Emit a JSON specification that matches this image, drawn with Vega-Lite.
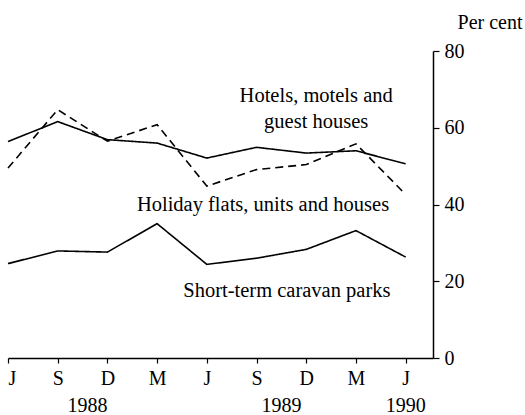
{
  "$schema": "https://vega.github.io/schema/vega-lite/v6.json",
  "autosize": "none",
  "width": 425,
  "height": 307,
  "padding": {"left": 8, "top": 51, "right": 92, "bottom": 57},
  "background": "white",
  "config": {
    "view": {"stroke": null},
    "font": "Liberation Serif",
    "axis": {"labelFont": "Liberation Serif", "titleFont": "Liberation Serif", "labelColor": "black", "titleColor": "black", "domainColor": "black", "tickColor": "black", "grid": false}
  },
  "datasets": {
    "series": [
      {"t": 0, "series": "Hotels", "value": 56.4},
      {"t": 1, "series": "Hotels", "value": 61.6},
      {"t": 2, "series": "Hotels", "value": 56.9},
      {"t": 3, "series": "Hotels", "value": 56.0},
      {"t": 4, "series": "Hotels", "value": 52.1},
      {"t": 5, "series": "Hotels", "value": 54.9},
      {"t": 6, "series": "Hotels", "value": 53.4},
      {"t": 7, "series": "Hotels", "value": 54.0},
      {"t": 8, "series": "Hotels", "value": 50.6},
      {"t": 0, "series": "Holiday", "value": 49.5},
      {"t": 1, "series": "Holiday", "value": 64.7},
      {"t": 2, "series": "Holiday", "value": 56.5},
      {"t": 3, "series": "Holiday", "value": 60.8},
      {"t": 4, "series": "Holiday", "value": 44.8},
      {"t": 5, "series": "Holiday", "value": 49.1},
      {"t": 6, "series": "Holiday", "value": 50.4},
      {"t": 7, "series": "Holiday", "value": 55.8},
      {"t": 8, "series": "Holiday", "value": 42.6},
      {"t": 0, "series": "Caravan", "value": 24.6},
      {"t": 1, "series": "Caravan", "value": 27.9},
      {"t": 2, "series": "Caravan", "value": 27.6},
      {"t": 3, "series": "Caravan", "value": 35.0},
      {"t": 4, "series": "Caravan", "value": 24.4},
      {"t": 5, "series": "Caravan", "value": 26.0},
      {"t": 6, "series": "Caravan", "value": 28.3},
      {"t": 7, "series": "Caravan", "value": 33.2},
      {"t": 8, "series": "Caravan", "value": 26.3}
    ],
    "labels": [
      {"x": 6.2, "y": 68.4, "text": "Hotels, motels and"},
      {"x": 6.2, "y": 61.4, "text": "guest houses"},
      {"x": 5.13, "y": 40.0, "text": "Holiday flats, units and houses"},
      {"x": 5.61, "y": 17.4, "text": "Short-term caravan parks"}
    ],
    "years": [
      {"x": 1.6, "text": "1988"},
      {"x": 5.5, "text": "1989"},
      {"x": 8.0, "text": "1990"}
    ]
  },
  "layer": [
    {
      "data": {"name": "series"},
      "mark": {"type": "line", "color": "black", "strokeWidth": 1.6},
      "encoding": {
        "x": {
          "field": "t", "type": "quantitative",
          "scale": {"domain": [0, 8.55], "nice": false, "zero": false},
          "axis": {
            "orient": "bottom", "title": null, "values": [0,1,2,3,4,5,6,7,8],
            "labelExpr": "['J','S','D','M','J','S','D','M','J'][datum.value]",
            "labelFontSize": 20, "tickSize": 5, "labelPadding": 5, "domainWidth": 1.5, "tickWidth": 1.2
          }
        },
        "y": {
          "field": "value", "type": "quantitative",
          "scale": {"domain": [0, 80], "nice": false},
          "axis": {
            "orient": "right", "values": [0,10,20,30,40,50,60,70,80],
            "labelExpr": "datum.value % 20 == 0 ? datum.label : ''",
            "labelFontSize": 20, "tickSize": 6, "labelPadding": 5, "domainWidth": 1.5, "tickWidth": 1.2,
            "title": "Per cent", "titleAngle": 0, "titleFontSize": 20, "titleFontWeight": "normal",
            "titleAlign": "right", "titleBaseline": "alphabetic", "titleX": 89, "titleY": -23
          }
        },
        "strokeDash": {
          "field": "series", "type": "nominal",
          "scale": {"domain": ["Hotels", "Holiday", "Caravan"], "range": [[1, 0], [8, 5], [1, 0]]},
          "legend": null
        }
      }
    },
    {
      "data": {"name": "labels"},
      "mark": {"type": "text", "fontSize": 20.5, "color": "black", "align": "center", "baseline": "middle"},
      "encoding": {
        "x": {"field": "x", "type": "quantitative"},
        "y": {"field": "y", "type": "quantitative"},
        "text": {"field": "text"}
      }
    },
    {
      "data": {"name": "years"},
      "mark": {"type": "text", "fontSize": 20, "color": "black", "align": "center", "baseline": "middle", "clip": false},
      "encoding": {
        "x": {"field": "x", "type": "quantitative"},
        "y": {"datum": -12.4, "type": "quantitative"},
        "text": {"field": "text"}
      }
    }
  ]
}
